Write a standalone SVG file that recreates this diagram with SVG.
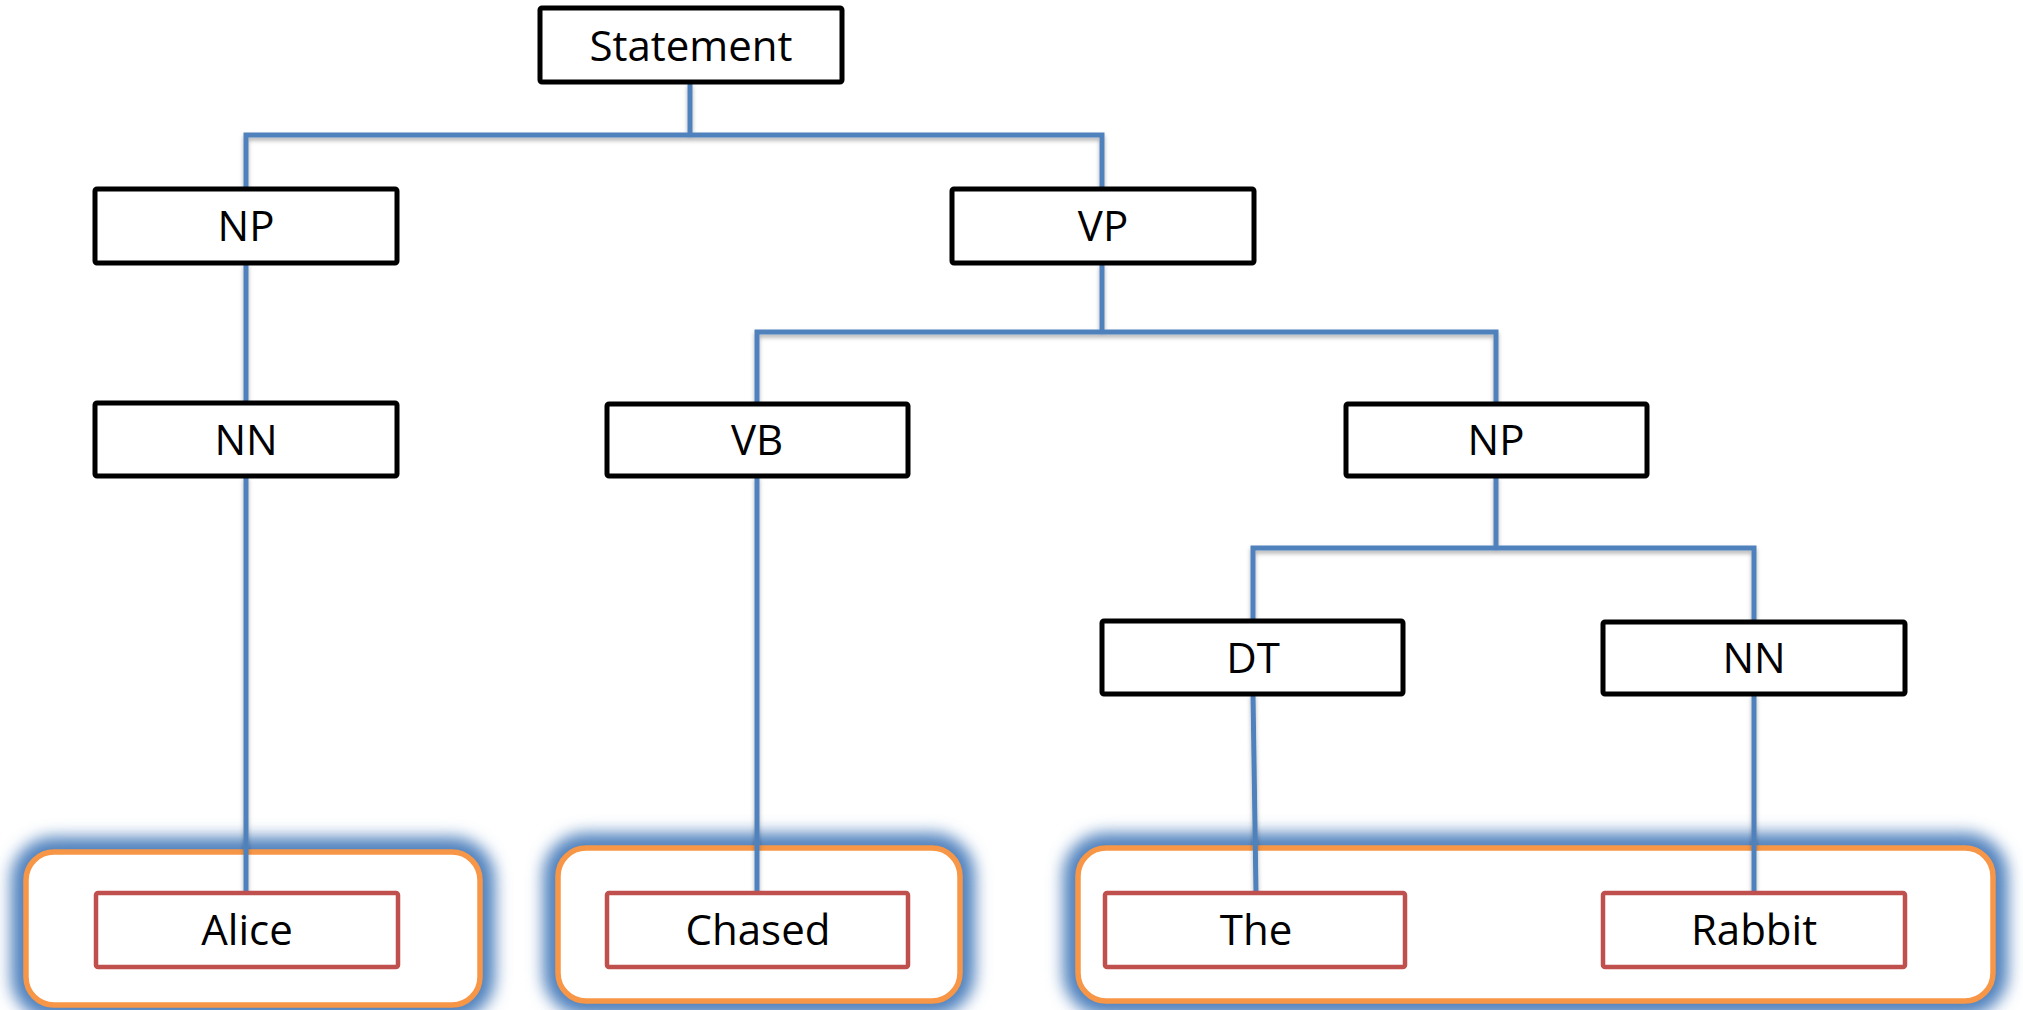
<svg xmlns="http://www.w3.org/2000/svg" width="2023" height="1010" viewBox="0 0 2023 1010">
<style>
.node rect{fill:#fff;stroke:#000;stroke-width:5}
.word rect{fill:#fff;stroke:#C0504D;stroke-width:4.5}
.grp{fill:#fff;stroke:#F79646;stroke-width:5.5}
.glow{fill:none;stroke:#4F81BD;stroke-width:30}
text{font-family:"Open Sans","Noto Sans","Liberation Sans",sans-serif;font-size:42px;fill:#000;text-anchor:middle}
.conn path{fill:none;stroke:#4F81BD;stroke-width:5;stroke-linejoin:miter}
</style>
<defs>
<filter id="blur" x="-10%" y="-30%" width="120%" height="160%"><feGaussianBlur stdDeviation="8"/></filter>
<filter id="shadow" x="-5%" y="-5%" width="110%" height="110%"><feDropShadow dx="0" dy="3" stdDeviation="2" flood-color="#000" flood-opacity="0.3"/></filter>
</defs>
<rect width="2023" height="1010" fill="#fff"/>
<g id="groups">
<g id="group-alice">
<rect class="glow" x="26" y="852" width="454" height="153" rx="28" filter="url(#blur)"/>
<rect class="grp" x="26" y="852" width="454" height="153" rx="28"/>
</g>
<g id="group-chased">
<rect class="glow" x="558" y="848" width="402" height="153" rx="28" filter="url(#blur)"/>
<rect class="grp" x="558" y="848" width="402" height="153" rx="28"/>
</g>
<g id="group-the-rabbit">
<rect class="glow" x="1078" y="848" width="915" height="153" rx="28" filter="url(#blur)"/>
<rect class="grp" x="1078" y="848" width="915" height="153" rx="28"/>
</g>
</g>
<g id="connectors" class="conn" filter="url(#shadow)">
<path d="M690,83 V135 M246,189 V135 H1102 V189"/>
<path d="M246,263 V403"/>
<path d="M246,476 V893"/>
<path d="M1102,263 V332 M757,404 V332 H1496 V404"/>
<path d="M757,476 V893"/>
<path d="M1496,476 V548 M1253,621 V548 H1754 V621"/>
<path d="M1253,694 L1256,893"/>
<path d="M1754,694 V893"/>
</g>
<g id="n-statement" class="node"><rect x="540" y="8" width="302" height="74" rx="2"/><text x="691" y="61">Statement</text></g>
<g id="n-np1" class="node"><rect x="95" y="189" width="302" height="74" rx="2"/><text x="246" y="241">NP</text></g>
<g id="n-vp" class="node"><rect x="952" y="189" width="302" height="74" rx="2"/><text x="1103" y="241">VP</text></g>
<g id="n-nn1" class="node"><rect x="95" y="403" width="302" height="73" rx="2"/><text x="246" y="455">NN</text></g>
<g id="n-vb" class="node"><rect x="607" y="404" width="301" height="72" rx="2"/><text x="757" y="455">VB</text></g>
<g id="n-np2" class="node"><rect x="1346" y="404" width="301" height="72" rx="2"/><text x="1496" y="455">NP</text></g>
<g id="n-dt" class="node"><rect x="1102" y="621" width="301" height="73" rx="2"/><text x="1253" y="673">DT</text></g>
<g id="n-nn2" class="node"><rect x="1603" y="622" width="302" height="72" rx="2"/><text x="1754" y="673">NN</text></g>
<g id="w-alice" class="word"><rect x="96" y="893" width="302" height="74" rx="2"/><text x="247" y="945">Alice</text></g>
<g id="w-chased" class="word"><rect x="607" y="893" width="301" height="74" rx="2"/><text x="758" y="945">Chased</text></g>
<g id="w-the" class="word"><rect x="1105" y="893" width="300" height="74" rx="2"/><text x="1256" y="945">The</text></g>
<g id="w-rabbit" class="word"><rect x="1603" y="893" width="302" height="74" rx="2"/><text x="1754" y="945">Rabbit</text></g>
</svg>
